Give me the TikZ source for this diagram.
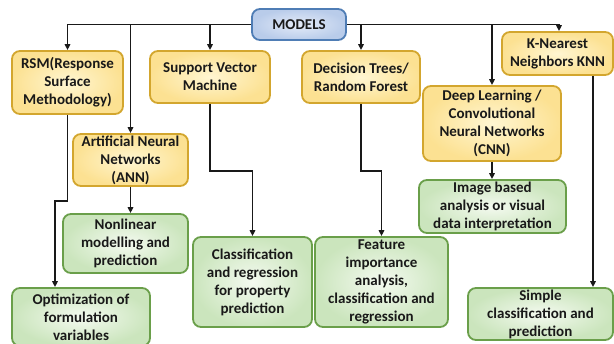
\documentclass[tikz,border=0pt]{standalone}
\usepackage{fontspec}
\setmainfont{Carlito}
\usetikzlibrary{arrows.meta}

\definecolor{modelfill}{HTML}{E4EBF8}
\definecolor{modelout}{HTML}{B9CCEA}
\definecolor{modelline}{HTML}{4F7DB5}
\definecolor{methfill}{HTML}{FFF6D2}
\definecolor{methout}{HTML}{FCE192}
\definecolor{methline}{HTML}{D3A62E}
\definecolor{usefill}{HTML}{F4FAF0}
\definecolor{useout}{HTML}{CBE5BD}
\definecolor{useline}{HTML}{6A9F4A}

\tikzset{
  basebox/.style={rounded corners=8pt, line width=1.8pt, align=center,
    inner sep=0pt, font=\fontsize{15}{18}\selectfont\bfseries, text=black!90},
  topbox/.style={basebox, draw=modelline, inner color=modelfill, outer color=modelout},
  methbox/.style={basebox, draw=methline, inner color=methfill, outer color=methout},
  usebox/.style={basebox, draw=useline, inner color=usefill, outer color=useout},
  link/.style={line width=1.8pt, draw=black!90,
    -{Triangle[length=6pt,width=5.5pt]}},
}

\begin{document}
\begin{tikzpicture}[x=1pt,y=-1pt]
\path[use as bounding box, fill=white] (0,0) rectangle (614,344);

% root
\node[topbox, minimum width=94pt, minimum height=31pt] (models) at (299,24.5) {MODELS};

% model families
\node[methbox, minimum width=111pt, minimum height=63pt] (rsm) at (67.5,82.5)
  {RSM(Response\\Surface\\Methodology)};
\node[methbox, minimum width=120pt, minimum height=52pt] (svm) at (210,77)
  {Support Vector\\Machine};
\node[methbox, minimum width=118pt, minimum height=52pt] (dt) at (361,77)
  {Decision Trees/\\Random Forest};
\node[methbox, minimum width=111pt, minimum height=43pt] (knn) at (557.5,53.5)
  {K-Nearest\\Neighbors KNN};
\node[methbox, minimum width=138pt, minimum height=75pt] (dl) at (492,123.5)
  {Deep Learning /\\Convolutional\\Neural Networks\\(CNN)};
\node[methbox, minimum width=115pt, minimum height=52pt] (ann) at (130.5,160)
  {Artificial Neural\\Networks\\(ANN)};

% applications
\node[usebox, minimum width=125pt, minimum height=59pt] (nonlin) at (125.5,243.5)
  {Nonlinear\\modelling and\\prediction};
\node[usebox, minimum width=138pt, minimum height=58pt] (optim) at (81,317)
  {Optimization of\\formulation\\variables};
\node[usebox, minimum width=119pt, minimum height=90pt] (classif) at (252.5,282)
  {Classification\\and regression\\for property\\prediction};
\node[usebox, minimum width=133pt, minimum height=90pt] (feature) at (381.5,282)
  {Feature\\importance\\analysis,\\classification and\\regression};
\node[usebox, minimum width=147pt, minimum height=53pt] (image) at (492.5,206.5)
  {Image based\\analysis or visual\\data interpretation};
\node[usebox, minimum width=145pt, minimum height=52pt] (simple) at (540.5,314)
  {Simple\\classification and\\prediction};

% bus from the root to every family
\draw[link] (models.west) -| (rsm.north);
\draw[link] (ann.north |- models.west) -- (ann.north);
\draw[link] (svm.north |- models.west) -- (svm.north);
\draw[link] (models.east) -| ([xshift=1.5pt]knn.north);
\draw[link] (dt.north |- models.east) -- (dt.north);
\draw[link] (dl.north |- models.east) -- (dl.north);

% families to their applications
\draw[link] (rsm.south) -- ++(0,86) -| ([xshift=-26pt]optim.north);
\draw[link] (ann.south) -- (ann.south |- nonlin.north);
\draw[link] (svm.south) -- ++(0,67) -| (classif.north);
\draw[link] (dt.south) -- ++(0,67) -| (feature.north);
\draw[link] (dl.south) -- (dl.south |- image.north);
\draw[link] ([xshift=35.5pt]knn.south) -- ([xshift=35.5pt]knn.south |- simple.north);
\end{tikzpicture}
\end{document}
